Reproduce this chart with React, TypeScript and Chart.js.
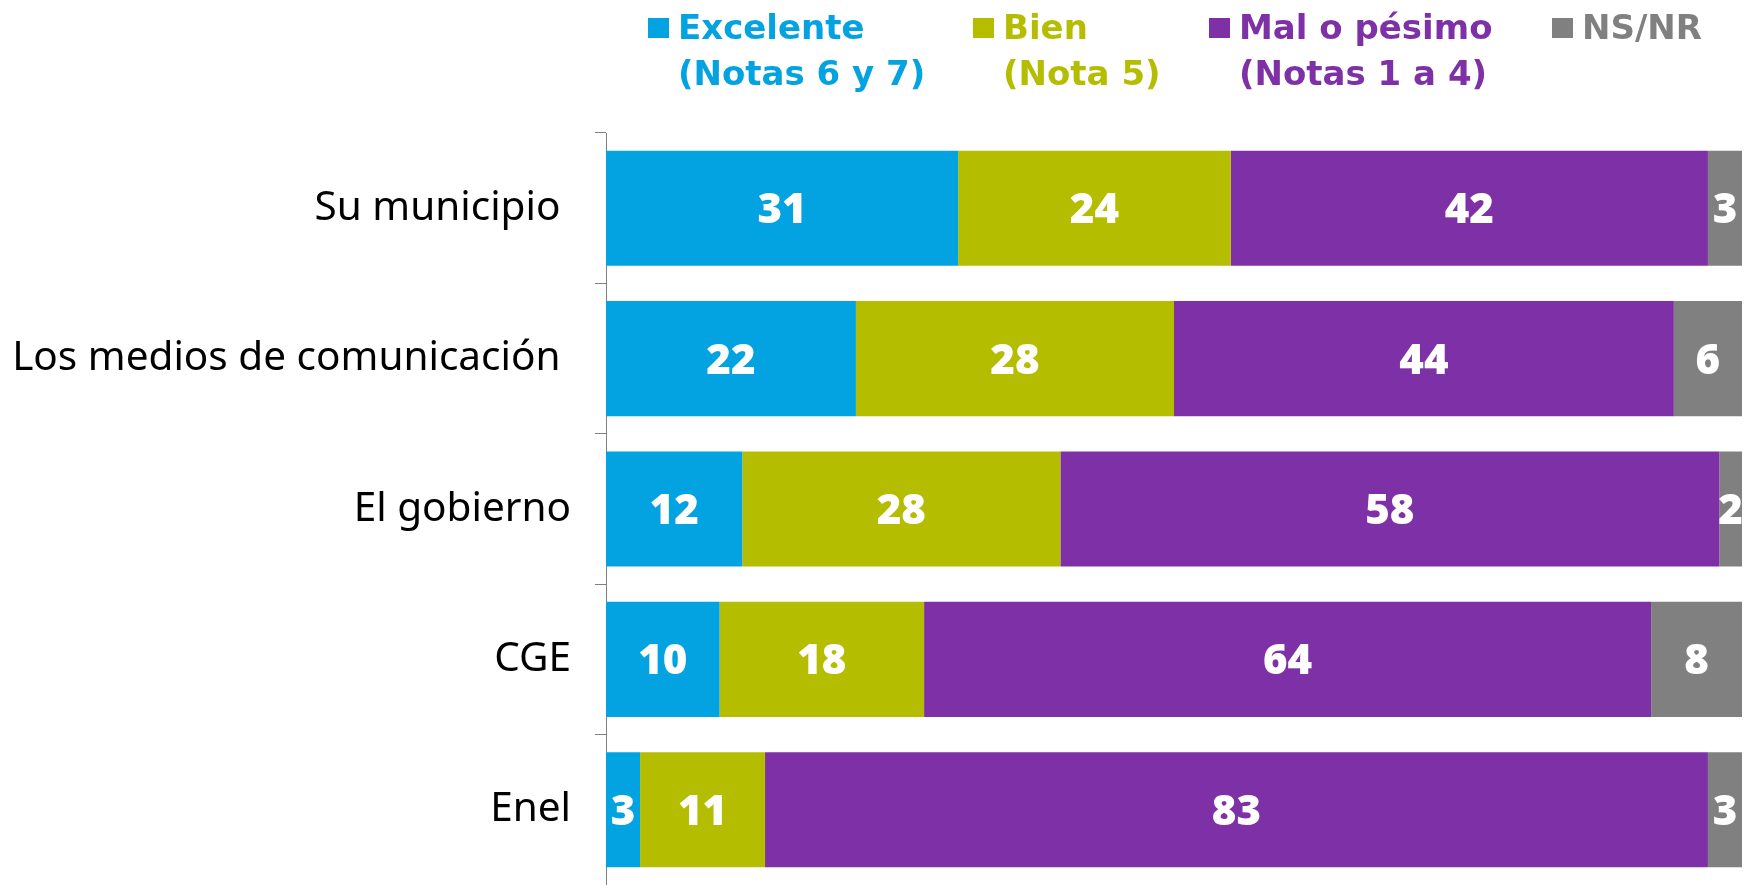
import React, { useEffect, useRef } from "react";
import { Chart, registerables } from "chart.js";

Chart.register(...registerables);

const categories = ["Su municipio ", "Los medios de comunicación ", "El gobierno", "CGE", "Enel"];
const excelente = [31, 22, 12, 10, 3];
const bien = [24, 28, 28, 18, 11];
const mal = [42, 44, 58, 64, 83];
const nsnr = [3, 6, 2, 8, 3];

const seriesNames = ["Excelente", "Bien", "Mal o pésimo", "NS/NR"];
const seriesSubtitles = ["(Notas 6 y 7)", "(Nota 5)", "(Notas 1 a 4)", ""];
const palette = ["#02A3E0", "#B5BD00", "#7E30A6", "#808080"];

const legendX = [648, 973, 1209, 1552];

const legendPlugin = {
  id: "twoLineLegend",
  afterDraw(chart: any) {
    const ctx = chart.ctx;
    ctx.save();
    ctx.font = "bold 34px 'DejaVu Sans'";
    ctx.textBaseline = "alphabetic";
    ctx.textAlign = "left";
    chart.data.datasets.forEach((ds: any, i: number) => {
      const x = legendX[i];
      ctx.fillStyle = ds.backgroundColor;
      ctx.fillRect(x, 18, 21, 20);
      ctx.fillText(seriesNames[i], x + 30, 39);
      if (seriesSubtitles[i]) ctx.fillText(seriesSubtitles[i], x + 30, 85);
    });
    ctx.restore();
  },
};

const valueLabelPlugin = {
  id: "valueLabels",
  afterDatasetsDraw(chart: any) {
    const ctx = chart.ctx;
    ctx.save();
    ctx.font = "800 42px 'Open Sans'";
    ctx.fillStyle = "#FFFFFF";
    ctx.textAlign = "center";
    ctx.textBaseline = "alphabetic";
    chart.data.datasets.forEach((ds: any, di: number) => {
      const meta = chart.getDatasetMeta(di);
      meta.data.forEach((el: any, i: number) => {
        const v = ds.data[i];
        const cx = (el.x + el.base) / 2;
        ctx.fillText(String(v), cx, el.y + 15);
      });
    });
    ctx.restore();
  },
};

export default function App() {
  const ref = useRef<HTMLCanvasElement | null>(null);
  useEffect(() => {
    if (!ref.current) return;
    const chart = new Chart(ref.current, {
      type: "bar",
      data: {
        labels: categories,
        datasets: [excelente, bien, mal, nsnr].map((d, i) => ({
          label: seriesNames[i],
          data: d,
          backgroundColor: palette[i],
          borderWidth: 0,
          barPercentage: 0.765,
          categoryPercentage: 1,
        })),
      },
      options: {
        indexAxis: "y",
        responsive: false,
        animation: false,
        layout: { padding: { top: 133, right: 2, left: 0, bottom: 0 } },
        plugins: { legend: { display: false }, tooltip: { enabled: false } },
        scales: {
          x: { stacked: true, min: 0, max: 100, display: false },
          y: {
            stacked: true,
            afterFit: (scale: any) => {
              scale.width = 606;
              scale.paddingTop = 0;
              scale.paddingBottom = 0;
            },
            grid: {
              display: true,
              drawOnChartArea: false,
              drawTicks: true,
              tickLength: 11,
              color: "#808080",
              offset: true,
            },
            border: { display: true, color: "#808080", width: 1 },
            ticks: {
              color: "#000000",
              padding: 24,
              font: { family: "'Noto Sans'", size: 40.5 },
            },
          },
        },
      },
      plugins: [legendPlugin, valueLabelPlugin],
    } as any);
    return () => chart.destroy();
  }, []);
  return (
    <div style={{ position: "absolute", left: 0, top: 0, width: 1744, height: 885, background: "#fff" }}>
      <canvas ref={ref} width={1744} height={885} style={{ display: "block" }} />
    </div>
  );
}
